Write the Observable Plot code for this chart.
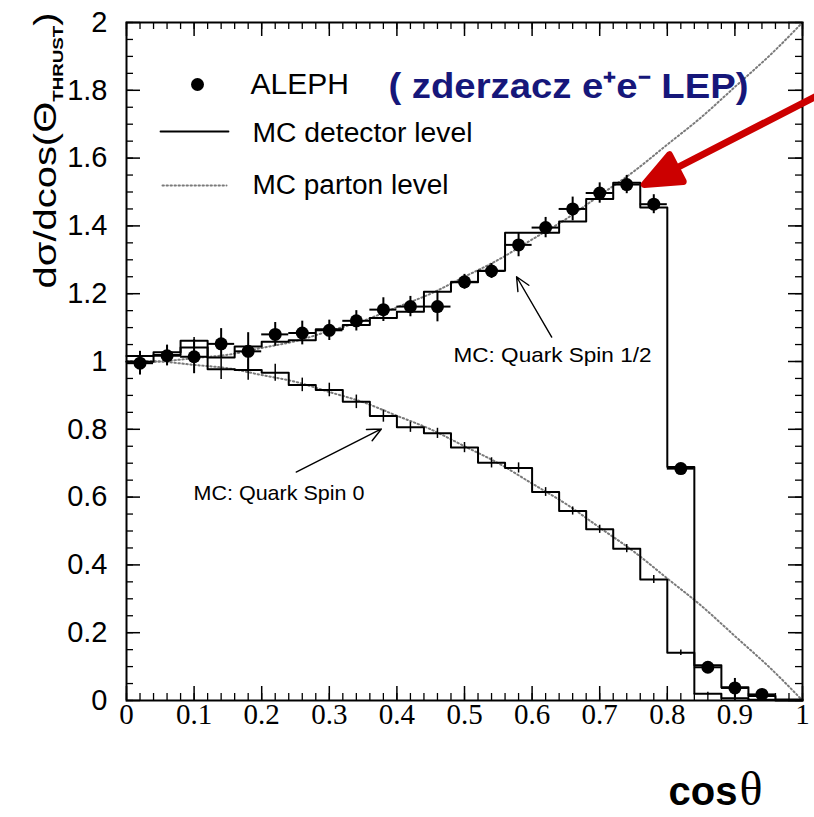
<!DOCTYPE html>
<html><head><meta charset="utf-8">
<script src="https://cdn.jsdelivr.net/npm/d3@7"></script>
<script src="https://cdn.jsdelivr.net/npm/@observablehq/plot@0.6"></script>
<style>html,body{margin:0;padding:0;background:#fff;} svg{display:block;}</style>
</head><body><div id="chart"></div>
<script>
// ---- data ----
const binCenters = [0.02,0.06,0.10,0.14,0.18,0.22,0.26,0.30,0.34,0.38,0.42,0.46,0.50,0.54,0.58,0.62,0.66,0.70,0.74,0.78,0.82,0.86,0.90,0.94,0.98];
const binHalfWidth = 0.02;
const alephValues = [0.995,1.017,1.014,1.052,1.030,1.080,1.084,1.092,1.120,1.153,1.162,1.162,1.235,1.267,1.344,1.395,1.450,1.497,1.522,1.464,0.684,0.098,0.037,0.018];
const alephErrors = [0.035,0.030,0.050,0.045,0.055,0.035,0.035,0.030,0.030,0.035,0.030,0.045,0.022,0.022,0.035,0.030,0.035,0.030,0.027,0.028,0.012,0.008,0.028,0.006];
const mcDetSpinHalf = [1.016,1.027,1.061,1.012,1.044,1.058,1.063,1.095,1.108,1.128,1.147,1.206,1.234,1.268,1.380,1.380,1.413,1.479,1.527,1.454,0.689,0.104,0.039,0.013,0.003];
const mcDetSpinZero = [0.999,1.019,1.041,0.977,0.975,0.967,0.931,0.916,0.881,0.839,0.806,0.788,0.746,0.701,0.686,0.615,0.559,0.505,0.448,0.357,0.141,0.020,0.007,0.002,0.000];
const mcSpinZeroErrors = [0.030,0.030,0.030,0.030,0.030,0.025,0.020,0.020,0.020,0.018,0.015,0.015,0.015,0.015,0.015,0.013,0.012,0.012,0.012,0.012,0.008,0.004,0.003,0.002,0.001];
const partonCos = [0,0.05,0.10,0.15,0.20,0.25,0.30,0.35,0.40,0.45,0.50,0.55,0.60,0.65,0.70,0.75,0.80,0.85,0.90,0.95,1.00];
const partonSpinHalf = [1.00,1.00,1.01,1.02,1.04,1.06,1.09,1.12,1.16,1.20,1.25,1.30,1.36,1.42,1.49,1.56,1.64,1.72,1.81,1.90,2.00];
const partonSpinZero = [1.00,1.00,0.99,0.98,0.96,0.94,0.91,0.88,0.84,0.80,0.75,0.70,0.64,0.58,0.51,0.44,0.36,0.28,0.19,0.10,0.00];
const xTickValues = [0,0.1,0.2,0.3,0.4,0.5,0.6,0.7,0.8,0.9,1];
const yTickValues = [0,0.2,0.4,0.6,0.8,1,1.2,1.4,1.6,1.8,2];
const yLabelText = "dσ/dcos(ΘTHRUST)";
const xLabelText = "cosθ";
const legendData = "ALEPH";
const legendNote = "( zderzacz e⁺e⁻ LEP)";
const legendDetector = "MC detector level";
const legendParton = "MC parton level";
const noteSpinHalf = "MC: Quark Spin 1/2";
const noteSpinZero = "MC: Quark Spin 0";

// ---- tables built from the arrays ----
const alephRows = alephValues.map((v, i) => ({c: binCenters[i], v, e: alephErrors[i]}));
const stepRows = (vals) => {
  const r = vals.map((v, i) => ({x: binCenters[i] - binHalfWidth, v}));
  r.push({x: binCenters[binCenters.length - 1] + binHalfWidth, v: vals[vals.length - 1]});
  return r;
};
const spinHalfSteps = stepRows(mcDetSpinHalf);
const spinZeroSteps = stepRows(mcDetSpinZero);
const spinZeroCross = mcDetSpinZero.map((v, i) => ({c: binCenters[i], v, e: mcSpinZeroErrors[i]}));
const partonRows = partonCos.map((c, i) => ({c, half: partonSpinHalf[i], zero: partonSpinZero[i]}));
const xMinor = d3.range(0, 1.0001, 0.02);
const yMinor = d3.range(0, 2.0001, 0.05);

// ---- layout ----
const W = 814, H = 817, mL = 126, mR = 12, mT = 22, mB = 117;
const frameW = W - mL - mR, frameH = H - mT - mB;
const sans = "Liberation Sans, Arial, Helvetica, sans-serif";
const serif = "Liberation Serif, Times New Roman, serif";
const dotted = {stroke: "#7a7a7a", strokeWidth: 2, strokeDasharray: "1.4,2.6"};
const lineShape = {draw(ctx, l) { ctx.moveTo(0, 0); ctx.lineTo(0, -l); }};
const redArrowShape = {draw(ctx, l) {
  const hl = 36, hw = 15;
  ctx.moveTo(0, 0); ctx.lineTo(0, -l + hl - 2);
  ctx.moveTo(0, -l); ctx.lineTo(-hw, -l + hl); ctx.lineTo(hw, -l + hl); ctx.closePath();
}};

const svg = Plot.plot({
  width: W, height: H,
  marginLeft: mL, marginRight: mR, marginTop: mT, marginBottom: mB,
  style: {background: "white", color: "black", overflow: "visible"},
  x: {domain: [0, 1]},
  y: {domain: [0, 2]},
  marks: [
    // parton level curves
    Plot.line(partonRows, {x: "c", y: "half", curve: "natural", ...dotted}),
    Plot.line(partonRows, {x: "c", y: "zero", curve: "natural", ...dotted}),
    // detector level histograms
    Plot.line(spinHalfSteps, {x: "x", y: "v", curve: "step-after", stroke: "black", strokeWidth: 2}),
    Plot.line(spinZeroSteps, {x: "x", y: "v", curve: "step-after", stroke: "black", strokeWidth: 2}),
    Plot.ruleX(spinZeroCross, {x: "c", y1: d => d.v - d.e, y2: d => d.v + d.e, stroke: "black", strokeWidth: 1.5}),
    // ALEPH data
    Plot.ruleY(alephRows, {y: "v", x1: d => d.c - binHalfWidth, x2: d => d.c + binHalfWidth, stroke: "black", strokeWidth: 2}),
    Plot.ruleX(alephRows, {x: "c", y1: d => d.v - d.e, y2: d => d.v + d.e, stroke: "black", strokeWidth: 2}),
    Plot.dot(alephRows, {x: "c", y: "v", r: 6.5, fill: "black", stroke: "none"}),
    // frame and inward ticks
    Plot.frame({stroke: "black", strokeWidth: 2}),
    Plot.ruleX(xMinor, {x: d => d, insetTop: frameH - 7, stroke: "black", strokeWidth: 1.3}),
    Plot.ruleX(xMinor, {x: d => d, insetBottom: frameH - 7, stroke: "black", strokeWidth: 1.3}),
    Plot.ruleX(xTickValues, {x: d => d, insetTop: frameH - 14, stroke: "black", strokeWidth: 1.5}),
    Plot.ruleX(xTickValues, {x: d => d, insetBottom: frameH - 14, stroke: "black", strokeWidth: 1.5}),
    Plot.ruleY(yMinor, {y: d => d, insetRight: frameW - 7, stroke: "black", strokeWidth: 1.3}),
    Plot.ruleY(yMinor, {y: d => d, insetLeft: frameW - 7, stroke: "black", strokeWidth: 1.3}),
    Plot.ruleY(yTickValues, {y: d => d, insetRight: frameW - 14, stroke: "black", strokeWidth: 1.5}),
    Plot.ruleY(yTickValues, {y: d => d, insetLeft: frameW - 14, stroke: "black", strokeWidth: 1.5}),
    // tick labels
    Plot.axisX({ticks: xTickValues, tickSize: 0, tickPadding: 3, tickFormat: d => String(d), label: null, fontSize: 29, fontFamily: serif}),
    Plot.axisY({ticks: yTickValues, tickSize: 0, tickPadding: 19, tickFormat: d => String(d), label: null, fontSize: 29, fontFamily: sans}),
    // axis titles
    Plot.text([yLabelText], {frameAnchor: "top-left", dx: -81, dy: 128, rotate: -90, textAnchor: "middle", lineAnchor: "middle", fontSize: 32, fontFamily: sans}),
    Plot.text([xLabelText], {frameAnchor: "bottom-left", dx: 542, dy: 92, textAnchor: "start", lineAnchor: "middle", fontSize: 40, fontWeight: "bold", fontFamily: sans}),
    // legend
    Plot.dot([0], {frameAnchor: "top-left", dx: 71, dy: 62, r: 6.5, fill: "black", stroke: "none"}),
    Plot.text([legendData], {frameAnchor: "top-left", dx: 124, dy: 62, textAnchor: "start", lineAnchor: "middle", fontSize: 30, fontFamily: sans}),
    Plot.text([legendNote], {frameAnchor: "top-left", dx: 262, dy: 64, textAnchor: "start", lineAnchor: "middle", fontSize: 35, fontWeight: "bold", fill: "#16177a", fontFamily: sans}),
    Plot.vector([0], {frameAnchor: "top-left", dx: 34, dy: 109, length: 68, rotate: 90, anchor: "start", shape: lineShape, stroke: "black", strokeWidth: 1.8}),
    Plot.text([legendDetector], {frameAnchor: "top-left", dx: 126, dy: 111, textAnchor: "start", lineAnchor: "middle", fontSize: 27, fontFamily: sans}),
    Plot.vector([0], {frameAnchor: "top-left", dx: 36, dy: 163, length: 64, rotate: 90, anchor: "start", shape: lineShape, ...dotted}),
    Plot.text([legendParton], {frameAnchor: "top-left", dx: 126, dy: 163, textAnchor: "start", lineAnchor: "middle", fontSize: 27, fontFamily: sans}),
    // annotations
    Plot.arrow([0], {x1: 0.629, y1: 1.072, x2: 0.577, y2: 1.250, headLength: 16, headAngle: 50, stroke: "black", strokeWidth: 1.4}),
    Plot.text([noteSpinHalf], {frameAnchor: "top-left", dx: 327, dy: 333, textAnchor: "start", lineAnchor: "middle", fontSize: 21, fontFamily: sans}),
    Plot.arrow([0], {x1: 0.251, y1: 0.674, x2: 0.377, y2: 0.801, headLength: 16, headAngle: 50, stroke: "black", strokeWidth: 1.4}),
    Plot.text([noteSpinZero], {frameAnchor: "top-left", dx: 67, dy: 471, textAnchor: "start", lineAnchor: "middle", fontSize: 21, fontFamily: sans}),
    Plot.vector([0], {x: 0.766, y: 1.522, length: 205, rotate: 242.8, anchor: "end", shape: redArrowShape, stroke: "#cc0000", fill: "#cc0000", strokeWidth: 7})
  ]
});

// rich text: subscript in y label, serif theta in x label; widths matched to the reference
const root = d3.select(svg);
const findText = (s) => root.selectAll("text").filter(function() { return this.textContent === s; });
findText(yLabelText).each(function() {
  const t = d3.select(this);
  t.text(null);
  t.append("tspan").text("dσ/dcos(Θ");
  t.append("tspan").attr("font-size", 15).attr("font-weight", "bold").attr("dy", 7).text("THRUST");
  t.append("tspan").attr("dy", -7).text(")");
  t.attr("textLength", 276).attr("lengthAdjust", "spacingAndGlyphs");
});
findText(xLabelText).each(function() {
  const t = d3.select(this);
  t.text(null);
  t.append("tspan").text("cos");
  t.append("tspan").attr("font-family", serif).attr("font-weight", "normal").attr("font-size", 48).attr("dx", 2).text("θ");
});
[[legendNote, 360], [legendDetector, 220], [legendParton, 196], [noteSpinHalf, 198], [noteSpinZero, 171]].forEach(([s, len]) => {
  findText(s).attr("textLength", len).attr("lengthAdjust", "spacingAndGlyphs");
});

document.getElementById("chart").appendChild(svg);
</script>
</body></html>
